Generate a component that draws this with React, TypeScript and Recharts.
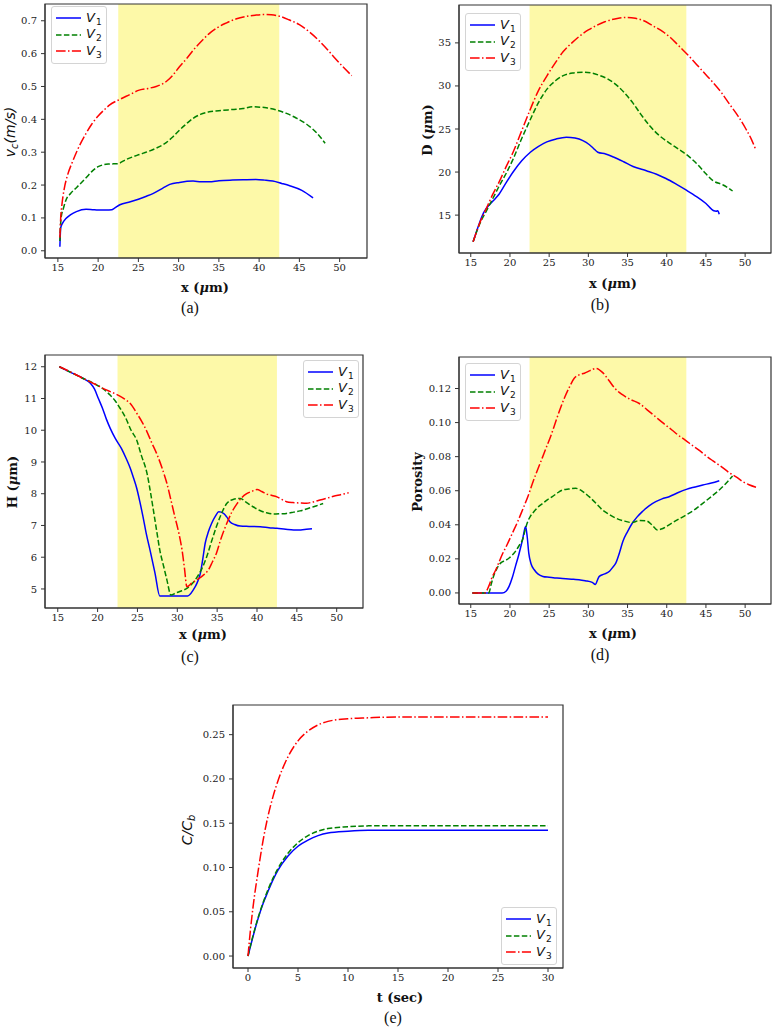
import React from 'react'
import { LineChart, Line, XAxis, YAxis, ReferenceArea } from 'recharts'

type Pt = [number, number]

// shaded region in panels (a)-(d)
const BAND: Pt = [22.5, 42.5]

const X_TICKS = [15, 20, 25, 30, 35, 40, 45, 50]
const VC_TICKS = [0, 0.1, 0.2, 0.3, 0.4, 0.5, 0.6, 0.7]
const D_TICKS = [15, 20, 25, 30, 35]
const H_TICKS = [5, 6, 7, 8, 9, 10, 11, 12]
const POR_TICKS = [0, 0.02, 0.04, 0.06, 0.08, 0.1, 0.12]
const T_TICKS = [0, 5, 10, 15, 20, 25, 30]
const C_TICKS = [0, 0.05, 0.1, 0.15, 0.2, 0.25]

// (a) v_c vs x
const vcV1: Pt[] = [[15.25,0.012],[15.35,0.07],[15.6,0.085],[16.0,0.098],[16.6,0.11],[17.3,0.119],[18.5,0.126],[19.3,0.125],[20.0,0.124],[21.0,0.124],[21.7,0.125],[22.0,0.129],[22.7,0.14],[24.0,0.149],[25.0,0.157],[26.0,0.166],[26.8,0.174],[28.0,0.19],[28.9,0.202],[30.1,0.208],[31.8,0.212],[32.8,0.21],[33.8,0.21],[35.0,0.213],[36.7,0.215],[38.0,0.216],[39.6,0.217],[40.7,0.215],[41.7,0.212],[42.8,0.205],[43.8,0.198],[45.3,0.184],[46.7,0.161]]
const vcV2: Pt[] = [[15.25,0.03],[15.4,0.1],[15.7,0.13],[16.0,0.154],[16.6,0.175],[17.3,0.192],[18.5,0.222],[19.3,0.243],[20.0,0.256],[20.7,0.262],[21.4,0.264],[22.4,0.265],[23.5,0.278],[25.0,0.292],[26.2,0.302],[27.2,0.312],[28.5,0.33],[29.3,0.347],[30.1,0.367],[31.0,0.387],[31.8,0.403],[32.7,0.415],[33.8,0.423],[35.0,0.426],[36.7,0.43],[38.0,0.433],[39.2,0.438],[40.2,0.437],[40.9,0.435],[42.2,0.428],[43.4,0.418],[44.6,0.404],[45.9,0.385],[47.1,0.36],[48.2,0.327]]
const vcV3: Pt[] = [[15.25,0.04],[15.35,0.1],[15.5,0.14],[15.8,0.19],[16.2,0.23],[16.8,0.27],[17.4,0.305],[18.5,0.357],[19.2,0.385],[20.0,0.41],[20.8,0.43],[21.4,0.443],[22.7,0.461],[24.0,0.476],[25.0,0.488],[26.2,0.494],[27.2,0.5],[28.0,0.508],[28.5,0.516],[29.3,0.535],[30.1,0.56],[31.0,0.585],[31.8,0.61],[32.8,0.637],[33.8,0.661],[34.8,0.679],[35.9,0.693],[37.2,0.706],[38.4,0.713],[39.5,0.717],[40.5,0.719],[41.5,0.718],[42.5,0.714],[43.7,0.703],[45.0,0.688],[46.3,0.665],[47.5,0.638],[48.5,0.612],[49.2,0.592],[50.3,0.563],[51.5,0.533]]

// (b) D vs x
const dV1: Pt[] = [[15.3,11.9],[16.0,13.8],[16.6,15.2],[17.0,15.8],[17.8,16.6],[18.5,17.3],[19.4,18.6],[20.4,20.0],[21.5,21.3],[22.6,22.3],[23.6,22.95],[24.7,23.5],[25.9,23.85],[27.2,24.05],[28.3,23.95],[29.3,23.65],[30.1,23.2],[30.6,22.8],[31.2,22.3],[32.2,22.1],[33.2,21.75],[34.5,21.2],[35.7,20.65],[37.4,20.15],[38.7,19.75],[39.9,19.25],[41.2,18.6],[42.5,17.9],[43.8,17.15],[45.0,16.35],[46.0,15.5],[46.3,15.45],[46.5,15.5],[46.7,15.1]]
const dV2: Pt[] = [[15.3,11.9],[16.2,14.1],[17.0,15.5],[17.8,16.9],[18.7,18.5],[19.6,20.0],[20.4,21.5],[21.5,23.9],[22.6,26.1],[23.6,28.0],[24.7,29.6],[25.8,30.6],[26.8,31.2],[28.0,31.5],[29.3,31.6],[30.4,31.5],[31.5,31.2],[32.5,30.8],[33.6,30.1],[34.6,29.2],[35.7,28.0],[36.7,26.7],[37.8,25.4],[39.1,24.2],[40.3,23.4],[41.6,22.6],[42.7,21.9],[43.8,21.0],[44.9,19.9],[45.9,19.0],[47.2,18.5],[48.4,17.8]]
const dV3: Pt[] = [[15.3,11.9],[16.2,14.2],[17.0,15.8],[17.8,17.4],[18.7,19.0],[19.5,20.6],[20.4,22.3],[21.5,24.8],[22.6,27.3],[23.6,29.4],[24.7,31.15],[25.8,32.7],[26.8,34.0],[27.9,35.0],[28.9,35.8],[30.0,36.5],[31.0,37.0],[32.1,37.45],[33.2,37.75],[34.0,37.9],[34.9,37.95],[36.0,37.85],[37.0,37.6],[38.2,37.0],[39.5,36.3],[40.5,35.6],[41.6,34.6],[42.7,33.6],[43.8,32.5],[44.8,31.5],[45.9,30.4],[47.0,29.2],[48.0,27.9],[49.1,26.5],[50.1,25.0],[50.8,23.8],[51.4,22.5]]

// (c) H vs x
const hV1: Pt[] = [[15.2,12.0],[16.5,11.84],[18.2,11.63],[19.1,11.48],[19.6,11.3],[20.1,11.0],[20.6,10.7],[21.1,10.35],[21.6,10.05],[22.2,9.75],[23.0,9.42],[23.6,9.1],[24.1,8.8],[24.5,8.5],[24.9,8.18],[25.3,7.75],[25.7,7.27],[26.1,6.75],[26.6,6.2],[27.2,5.5],[27.8,4.78],[29.0,4.78],[30.0,4.78],[31.3,4.78],[32.0,4.97],[32.5,5.2],[32.9,5.5],[33.2,5.95],[33.5,6.44],[33.9,6.8],[34.3,7.06],[34.8,7.3],[35.2,7.43],[35.8,7.38],[36.2,7.27],[36.6,7.12],[37.2,7.03],[37.9,6.98],[39.0,6.97],[40.4,6.96],[41.5,6.93],[42.5,6.91],[43.6,6.88],[44.6,6.86],[45.5,6.86],[46.2,6.88],[46.9,6.9]]
const hV2: Pt[] = [[15.2,12.0],[16.5,11.84],[18.2,11.63],[19.7,11.45],[21.1,11.22],[21.6,11.1],[22.2,10.93],[22.8,10.7],[23.5,10.4],[24.2,10.0],[24.9,9.69],[25.5,9.2],[26.2,8.64],[26.6,8.1],[27.0,7.48],[27.4,6.85],[27.8,6.23],[28.3,5.7],[28.7,5.28],[29.2,4.81],[29.8,4.87],[30.3,4.92],[31.2,5.02],[31.8,5.15],[32.4,5.34],[33.1,5.65],[33.7,6.02],[34.3,6.5],[34.9,6.96],[35.5,7.35],[36.2,7.69],[37.0,7.82],[37.9,7.85],[38.7,7.72],[39.5,7.59],[40.3,7.48],[41.2,7.4],[42.1,7.36],[43.0,7.37],[43.7,7.38],[44.6,7.42],[45.4,7.46],[46.2,7.52],[47.1,7.59],[47.7,7.64],[48.3,7.69]]
const hV3: Pt[] = [[15.2,12.0],[16.5,11.85],[18.2,11.63],[19.7,11.45],[21.1,11.27],[22.6,11.1],[23.4,10.98],[24.1,10.84],[25.0,10.5],[25.6,10.25],[26.2,9.95],[26.8,9.6],[27.4,9.27],[28.1,8.8],[28.7,8.32],[29.2,7.8],[29.7,7.27],[30.2,6.75],[30.6,6.22],[30.9,5.65],[31.2,5.07],[31.8,5.18],[32.4,5.28],[33.2,5.42],[33.9,5.6],[34.4,5.85],[34.9,6.12],[35.5,6.6],[36.2,7.06],[36.8,7.4],[37.5,7.69],[38.1,7.88],[38.7,8.0],[39.4,8.08],[40.0,8.13],[40.6,8.07],[41.2,7.99],[41.8,7.95],[42.5,7.9],[43.1,7.82],[43.7,7.75],[44.5,7.72],[45.3,7.71],[46.2,7.7],[47.0,7.74],[47.9,7.8],[48.8,7.86],[49.6,7.92],[50.5,7.97],[51.5,8.03]]

// (d) porosity vs x
const pV1: Pt[] = [[15.2,0],[16.5,0],[18.0,0],[19.0,0],[19.5,0.001],[19.9,0.004],[20.3,0.009],[20.7,0.0156],[21.1,0.022],[21.6,0.0312],[22.0,0.039],[22.2,0.033],[22.4,0.0234],[22.7,0.017],[23.1,0.0136],[23.6,0.011],[24.2,0.0097],[25.0,0.0092],[25.8,0.0088],[26.7,0.0084],[27.5,0.0082],[28.1,0.008],[28.8,0.0078],[29.6,0.0072],[30.5,0.0062],[30.9,0.0049],[31.2,0.008],[31.4,0.0097],[32.0,0.011],[32.7,0.0127],[33.1,0.015],[33.5,0.0175],[34.0,0.024],[34.4,0.0302],[35.0,0.036],[35.6,0.0409],[36.2,0.0445],[36.9,0.0478],[37.7,0.051],[38.6,0.0536],[39.4,0.0552],[40.3,0.0565],[41.4,0.0588],[42.5,0.0608],[43.6,0.0622],[44.6,0.0634],[45.7,0.0645],[46.7,0.0659]]
const pV2: Pt[] = [[15.2,0],[16.5,0],[17.3,0],[17.6,0.005],[17.9,0.0097],[18.3,0.014],[18.8,0.0175],[19.4,0.019],[19.9,0.0205],[20.3,0.0222],[20.7,0.0244],[21.2,0.028],[21.6,0.0312],[22.0,0.038],[22.2,0.041],[22.6,0.045],[22.9,0.0468],[23.5,0.05],[24.2,0.0526],[24.8,0.0548],[25.4,0.0565],[26.0,0.0585],[26.7,0.0604],[27.5,0.061],[28.4,0.0614],[29.3,0.0595],[30.1,0.0565],[31.0,0.0525],[31.8,0.0487],[32.7,0.046],[33.5,0.0439],[34.5,0.0423],[35.6,0.0413],[36.5,0.0425],[37.4,0.0423],[38.1,0.04],[38.8,0.037],[39.5,0.0378],[40.3,0.04],[41.4,0.043],[42.5,0.0458],[43.6,0.049],[44.6,0.0526],[45.7,0.0566],[46.7,0.0604],[47.6,0.0645],[48.4,0.0686]]
const pV3: Pt[] = [[15.2,0],[16.0,0],[16.8,0],[17.3,0.004],[17.7,0.009],[18.2,0.0136],[18.6,0.018],[19.0,0.0224],[19.6,0.028],[20.3,0.035],[21.0,0.042],[21.6,0.0487],[22.4,0.058],[23.0,0.066],[23.5,0.072],[24.1,0.079],[24.6,0.085],[25.2,0.092],[25.8,0.1],[26.4,0.108],[27.0,0.115],[27.6,0.121],[28.2,0.126],[28.8,0.128],[29.5,0.129],[30.2,0.1305],[31.0,0.1318],[31.8,0.1295],[32.6,0.1249],[33.4,0.12],[34.3,0.1165],[35.4,0.1135],[36.5,0.1112],[37.5,0.1075],[38.6,0.1033],[39.6,0.0995],[40.7,0.0955],[41.5,0.0925],[42.4,0.0896],[43.3,0.0865],[44.2,0.0835],[45.0,0.0805],[45.9,0.0775],[47.0,0.074],[48.0,0.0705],[48.9,0.068],[49.7,0.0653],[50.5,0.0635],[51.4,0.062]]

// (e) C/Cb vs t
const cT = [0, 0.25, 0.5, 1, 1.5, 2, 2.5, 3, 4, 5, 6, 7, 8, 10, 12, 15, 20, 25, 30]
const cV1 = [0, 0.011, 0.022, 0.042, 0.059, 0.073, 0.086, 0.097, 0.113, 0.124, 0.131, 0.136, 0.139, 0.141, 0.142, 0.142, 0.142, 0.142, 0.142]
const cV2 = [0, 0.012, 0.023, 0.043, 0.06, 0.075, 0.088, 0.099, 0.116, 0.128, 0.136, 0.141, 0.144, 0.146, 0.147, 0.147, 0.147, 0.147, 0.147]
const cV3 = [0, 0.03, 0.055, 0.095, 0.13, 0.158, 0.18, 0.198, 0.225, 0.243, 0.254, 0.261, 0.265, 0.268, 0.269, 0.27, 0.27, 0.27, 0.27]

const SERIES = [
  { sub: '1', color: '#0000ff', dash: undefined as string | undefined },
  { sub: '2', color: '#008000', dash: '5.5 2.4' },
  { sub: '3', color: '#ff0000', dash: '9.6 2.4 1.5 2.4' }
]

const AXIS = '#333'
const tickStyle = { fontSize: 10, fontFamily: 'DejaVu Serif', fill: '#222' }

const rows = (pts: Pt[]) => pts.map(([x, y]) => ({ x, y }))
const zipRows = (xs: number[], ys: number[]) => xs.map((x, i) => ({ x, y: ys[i] }))

type Box = { left: number; top: number; width: number; height: number }

function Panel({
  box, xDomain, yDomain, xTicks, yTicks, yFmt, series, band
}: {
  box: Box
  xDomain: [number, number]
  yDomain: [number, number]
  xTicks: number[]
  yTicks: number[]
  yFmt: (v: number) => string
  series: { x: number; y: number }[][]
  band?: boolean
}) {
  const YW = 44
  const MT = 2
  const XH = 22
  return (
    <div style={{ position: 'absolute', left: box.left - YW, top: box.top - MT }}>
      <LineChart
        width={YW + box.width + 2}
        height={MT + box.height + XH}
        margin={{ top: MT, right: 2, bottom: 0, left: 0 }}
      >
        <XAxis
          type="number"
          dataKey="x"
          domain={xDomain}
          ticks={xTicks}
          interval={0}
          allowDataOverflow
          height={XH}
          tick={tickStyle}
          tickSize={4}
          tickMargin={2}
          stroke={AXIS}
        />
        <YAxis
          type="number"
          dataKey="y"
          domain={yDomain}
          ticks={yTicks}
          interval={0}
          allowDataOverflow
          width={YW}
          tick={tickStyle}
          tickFormatter={yFmt}
          tickSize={4}
          tickMargin={4}
          stroke={AXIS}
        />
        {band && (
          <ReferenceArea x1={BAND[0]} x2={BAND[1]} fill="#fdf9a8" fillOpacity={1} stroke="none" />
        )}
        {series.map((d, i) => (
          <Line
            key={i}
            data={d}
            dataKey="y"
            type="monotone"
            dot={false}
            activeDot={false}
            stroke={SERIES[i].color}
            strokeWidth={1.5}
            strokeDasharray={SERIES[i].dash}
            isAnimationActive={false}
          />
        ))}
        <ReferenceArea
          x1={xDomain[0]}
          x2={xDomain[1]}
          y1={yDomain[0]}
          y2={yDomain[1]}
          fill="none"
          fillOpacity={0}
          stroke={AXIS}
          strokeWidth={1.2}
        />
      </LineChart>
    </div>
  )
}

function LegendBox({ left, top }: { left: number; top: number }) {
  return (
    <div
      style={{
        position: 'absolute',
        left,
        top,
        width: 54,
        padding: '3px 0',
        border: '1px solid #d4d4d4',
        borderRadius: 3,
        background: 'rgba(255,255,255,0.85)'
      }}
    >
      {SERIES.map((s) => (
        <div key={s.sub} style={{ height: 16.5, display: 'flex', alignItems: 'center' }}>
          <svg width={34} height={8}>
            <line x1={4} x2={29} y1={4} y2={4} stroke={s.color} strokeWidth={1.5} strokeDasharray={s.dash} />
          </svg>
          <span style={{ fontFamily: 'DejaVu Sans', fontStyle: 'italic', fontSize: 13, lineHeight: '13px' }}>
            V
            <span style={{ fontSize: 9, fontStyle: 'normal', position: 'relative', top: 3, marginLeft: 1 }}>
              {s.sub}
            </span>
          </span>
        </div>
      ))}
    </div>
  )
}

function Txt({ x, y, rotate, style, children }: { x: number; y: number; rotate?: boolean; style?: React.CSSProperties; children: React.ReactNode }) {
  return (
    <div
      style={{
        position: 'absolute',
        left: x,
        top: y,
        whiteSpace: 'nowrap',
        lineHeight: 1,
        transform: `translate(-50%, -50%)${rotate ? ' rotate(-90deg)' : ''}`,
        ...style
      }}
    >
      {children}
    </div>
  )
}

const boldLabel: React.CSSProperties = { fontFamily: 'DejaVu Serif', fontWeight: 'bold', fontSize: 13 }
const mathLabel: React.CSSProperties = { fontFamily: 'DejaVu Sans', fontStyle: 'italic', fontSize: 14 }
const caption: React.CSSProperties = { fontFamily: 'Liberation Serif', fontSize: 16 }

const XLabel = () => (
  <>
    x (<i>μ</i>m)
  </>
)

export default function App() {
  const f1 = (v: number) => v.toFixed(1)
  const f2 = (v: number) => v.toFixed(2)
  const f0 = (v: number) => String(v)
  return (
    <div style={{ position: 'absolute', left: 0, top: 0, width: 774, height: 1029, background: '#fff', color: '#111' }}>
      <Panel
        box={{ left: 45, top: 4, width: 322, height: 254 }}
        xDomain={[13.4, 53.4]}
        yDomain={[-0.022, 0.751]}
        xTicks={X_TICKS}
        yTicks={VC_TICKS}
        yFmt={f1}
        series={[rows(vcV1), rows(vcV2), rows(vcV3)]}
        band
      />
      <Panel
        box={{ left: 459, top: 5, width: 312, height: 248 }}
        xDomain={[13.5, 53.3]}
        yDomain={[10.6, 39.4]}
        xTicks={X_TICKS}
        yTicks={D_TICKS}
        yFmt={f0}
        series={[rows(dV1), rows(dV2), rows(dV3)]}
        band
      />
      <Panel
        box={{ left: 45, top: 355, width: 318, height: 253 }}
        xDomain={[13.4, 53.3]}
        yDomain={[4.4, 12.37]}
        xTicks={X_TICKS}
        yTicks={H_TICKS}
        yFmt={f0}
        series={[rows(hV1), rows(hV2), rows(hV3)]}
        band
      />
      <Panel
        box={{ left: 459, top: 357, width: 312, height: 247 }}
        xDomain={[13.5, 53.3]}
        yDomain={[-0.0065, 0.1385]}
        xTicks={X_TICKS}
        yTicks={POR_TICKS}
        yFmt={f2}
        series={[rows(pV1), rows(pV2), rows(pV3)]}
        band
      />
      <Panel
        box={{ left: 233, top: 705, width: 330, height: 263 }}
        xDomain={[-1.5, 31.5]}
        yDomain={[-0.0135, 0.2835]}
        xTicks={T_TICKS}
        yTicks={C_TICKS}
        yFmt={f2}
        series={[zipRows(cT, cV1), zipRows(cT, cV2), zipRows(cT, cV3)]}
      />

      <LegendBox left={51} top={6} />
      <LegendBox left={465} top={13} />
      <LegendBox left={303} top={360} />
      <LegendBox left={465} top={363} />
      <LegendBox left={501} top={907} />

      <Txt x={10} y={132} rotate style={mathLabel}>
        v<span style={{ fontSize: 10, position: 'relative', top: 3 }}>c</span>(m/s)
      </Txt>
      <Txt x={427} y={130} rotate style={boldLabel}>
        D (<i>μ</i>m)
      </Txt>
      <Txt x={12} y={482} rotate style={boldLabel}>
        H (<i>μ</i>m)
      </Txt>
      <Txt x={417} y={482} rotate style={boldLabel}>
        Porosity
      </Txt>
      <Txt x={187} y={830} rotate style={mathLabel}>
        C/C<span style={{ fontSize: 10, position: 'relative', top: 3 }}>b</span>
      </Txt>

      <Txt x={205} y={287} style={boldLabel}><XLabel /></Txt>
      <Txt x={613} y={283} style={boldLabel}><XLabel /></Txt>
      <Txt x={203} y={634} style={boldLabel}><XLabel /></Txt>
      <Txt x={613} y={633} style={boldLabel}><XLabel /></Txt>
      <Txt x={400} y={997} style={boldLabel}>t (sec)</Txt>

      <Txt x={190} y={308} style={caption}>(a)</Txt>
      <Txt x={600} y={305} style={caption}>(b)</Txt>
      <Txt x={190} y={657} style={caption}>(c)</Txt>
      <Txt x={600} y={655} style={caption}>(d)</Txt>
      <Txt x={393} y={1018} style={caption}>(e)</Txt>
    </div>
  )
}
